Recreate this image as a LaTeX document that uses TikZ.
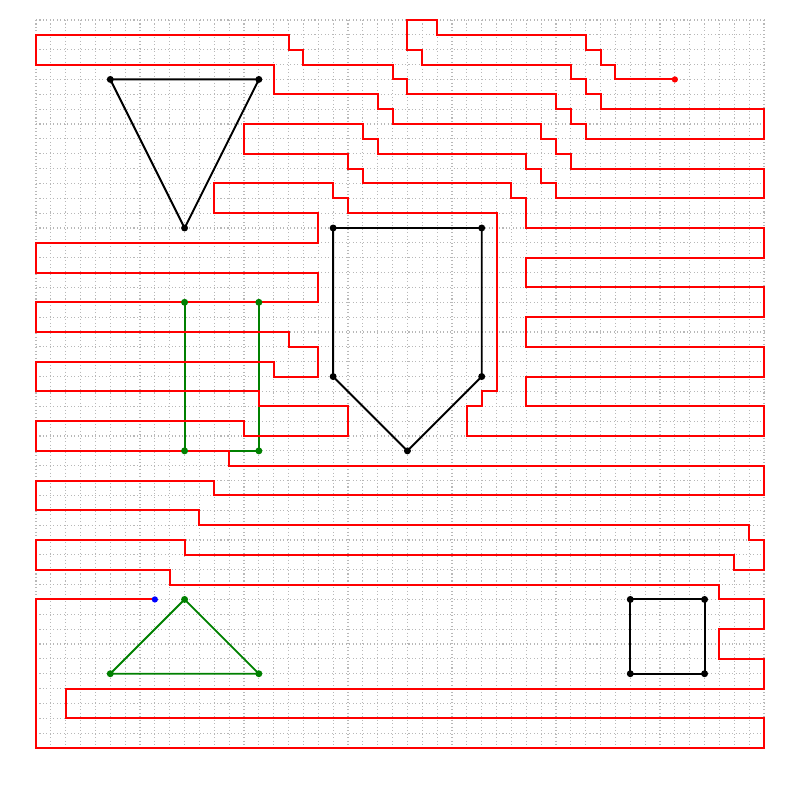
\documentclass[tikz,border=0pt]{standalone}
\begin{document}
\begin{tikzpicture}[x=0.3cm, y=-0.3cm,
    gridline/.style={black!28, line width=0.6pt, dash pattern=on 0.6pt off 1.4pt},
    route/.style={red, line width=1.1pt, line join=miter},
    outline/.style={line width=1.1pt, line join=miter},
    greenish/.style={green!50!black}]

  % Fix the margins of the picture
  \useasboundingbox (-2.423,-1.346) rectangle (51.423,52.5);

  % Dotted background grid
  \foreach \i in {0,...,49} {
    \draw[gridline] (\i,0) -- (\i,49);
    \draw[gridline] (0,\i) -- (49,\i);
  }

  % Define the corners of the shapes
  \coordinate (ta) at (5,4);
  \coordinate (tb) at (15,4);
  \coordinate (tc) at (10,14);
  \coordinate (pa) at (20,14);
  \coordinate (pb) at (30,14);
  \coordinate (pc) at (30,24);
  \coordinate (pd) at (25,29);
  \coordinate (pe) at (20,24);
  \coordinate (ra) at (10,19);
  \coordinate (rb) at (15,19);
  \coordinate (rc) at (15,29);
  \coordinate (rd) at (10,29);
  \coordinate (ga) at (10,39);
  \coordinate (gb) at (5,44);
  \coordinate (gc) at (15,44);
  \coordinate (sa) at (40,39);
  \coordinate (sb) at (45,39);
  \coordinate (sc) at (45,44);
  \coordinate (sd) at (40,44);
  \coordinate (start) at (8,39);
  \coordinate (goal) at (43,4);

  % Draw the obstacles
  \draw[outline, black] (ta) -- (tb) -- (tc) -- cycle;
  \draw[outline, black] (pa) -- (pb) -- (pc) -- (pd) -- (pe) -- cycle;
  \draw[outline, greenish] (ra) -- (rb) -- (rc) -- (rd) -- cycle;
  \draw[outline, greenish] (ga) -- (gb) -- (gc) -- cycle;
  \draw[outline, black] (sa) -- (sb) -- (sc) -- (sd) -- cycle;

  % Draw the route from start to goal
  \draw[route] (start) -- (0,39) -- (0,49) -- (49,49) -- (49,47) -- (2,47)
    -- (2,45) -- (49,45) -- (49,43) -- (46,43) -- (46,41) -- (49,41)
    -- (49,39) -- (46,39) -- (46,38) -- (9,38) -- (9,37) -- (0,37)
    -- (0,35) -- (10,35) -- (10,36) -- (47,36) -- (47,37) -- (49,37)
    -- (49,35) -- (48,35) -- (48,34) -- (11,34) -- (11,33) -- (0,33)
    -- (0,31) -- (12,31) -- (12,32) -- (49,32) -- (49,30) -- (13,30)
    -- (13,29) -- (0,29) -- (0,27) -- (14,27) -- (14,28) -- (21,28)
    -- (21,26) -- (15,26) -- (15,25) -- (0,25) -- (0,23) -- (16,23)
    -- (16,24) -- (19,24) -- (19,22) -- (17,22) -- (17,21) -- (0,21)
    -- (0,19) -- (19,19) -- (19,17) -- (0,17) -- (0,15) -- (19,15)
    -- (19,13) -- (12,13) -- (12,11) -- (20,11) -- (20,12) -- (21,12)
    -- (21,13) -- (31,13) -- (31,25) -- (30,25) -- (30,26) -- (29,26)
    -- (29,28) -- (49,28) -- (49,26) -- (33,26) -- (33,24) -- (49,24)
    -- (49,22) -- (33,22) -- (33,20) -- (49,20) -- (49,18) -- (33,18)
    -- (33,16) -- (49,16) -- (49,14) -- (33,14) -- (33,12) -- (32,12)
    -- (32,11) -- (22,11) -- (22,10) -- (21,10) -- (21,9) -- (14,9)
    -- (14,7) -- (22,7) -- (22,8) -- (23,8) -- (23,9) -- (33,9)
    -- (33,10) -- (34,10) -- (34,11) -- (35,11) -- (35,12) -- (49,12)
    -- (49,10) -- (36,10) -- (36,9) -- (35,9) -- (35,8) -- (34,8)
    -- (34,7) -- (24,7) -- (24,6) -- (23,6) -- (23,5) -- (16,5)
    -- (16,3) -- (0,3) -- (0,1) -- (17,1) -- (17,2) -- (18,2)
    -- (18,3) -- (24,3) -- (24,4) -- (25,4) -- (25,5) -- (35,5)
    -- (35,6) -- (36,6) -- (36,7) -- (37,7) -- (37,8) -- (49,8)
    -- (49,6) -- (38,6) -- (38,5) -- (37,5) -- (37,4) -- (36,4)
    -- (36,3) -- (26,3) -- (26,2) -- (25,2) -- (25,0) -- (27,0)
    -- (27,1) -- (37,1) -- (37,2) -- (38,2) -- (38,3) -- (39,3)
    -- (39,4) -- (goal);

  % Mark the corners
  \foreach \v in {ta,tb,tc,pa,pb,pc,pd,pe,sa,sb,sc,sd} {
    \fill[black] (\v) circle (2pt);
  }
  \foreach \v in {ra,rb,rc,rd,ga,gb,gc} {
    \fill[greenish] (\v) circle (2pt);
  }

  % Start and goal
  \fill[blue] (start) circle (1.8pt);
  \fill[red] (goal) circle (1.8pt);

\end{tikzpicture}
\end{document}
